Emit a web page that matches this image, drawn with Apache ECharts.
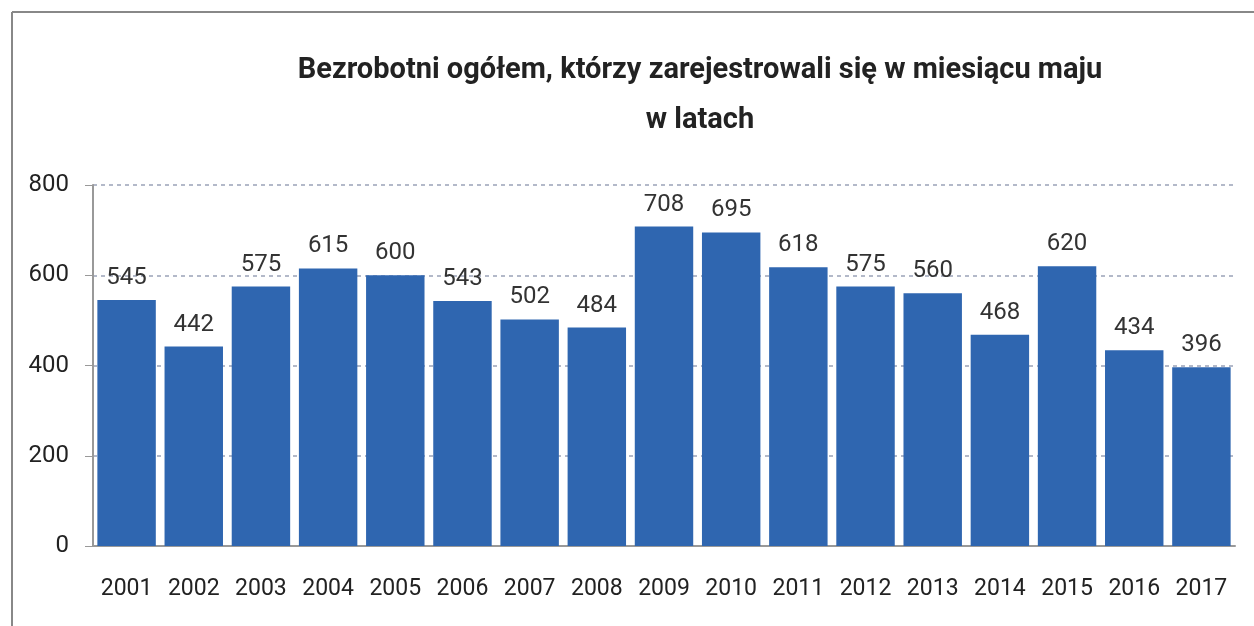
<!DOCTYPE html>
<html><head><meta charset="utf-8">
<script src="https://cdn.jsdelivr.net/npm/echarts@6/dist/echarts.min.js"></script>
<style>html,body{margin:0;padding:0;background:#fff}#c{width:1254px;height:626px}</style>
</head><body><div id="c"></div>
<script>
const titleText = 'Bezrobotni ogółem, którzy zarejestrowali się w miesiącu maju\nw latach';
const years = ['2001','2002','2003','2004','2005','2006','2007','2008','2009','2010','2011','2012','2013','2014','2015','2016','2017'];
const values = [545,442,575,615,600,543,502,484,708,695,618,575,560,468,620,434,396];
const yTicks = [0,200,400,600,800];

const FONT = 'Roboto, "Liberation Sans", sans-serif';
const chart = echarts.init(document.getElementById('c'));
chart.setOption({
  backgroundColor: '#fff',
  animation: false,
  title: {
    text: titleText, left: 695, top: 41, textAlign: 'center',
    textStyle: {fontFamily: FONT, fontSize: 29, fontWeight: 'bold', color: '#222', lineHeight: 50}
  },
  graphic: [
    {type: 'line', shape: {x1: 12, y1: 12, x2: 1254, y2: 12}, style: {stroke: '#888', lineWidth: 2}},
    {type: 'line', shape: {x1: 12, y1: 12, x2: 12, y2: 626}, style: {stroke: '#888', lineWidth: 2}}
  ],
  grid: {left: 93, right: 19, top: 185, bottom: 80},
  xAxis: {
    type: 'category', data: years,
    axisLine: {show: true, lineStyle: {color: '#999', width: 2}},
    axisTick: {show: false},
    axisLabel: {interval: 0, fontFamily: FONT, fontSize: 23, color: '#222', margin: 32}
  },
  yAxis: {
    type: 'value', min: 0, max: 800, interval: 200,
    axisLine: {show: true, lineStyle: {color: '#999', width: 2}},
    axisTick: {show: true, length: 8, lineStyle: {color: '#999'}},
    splitLine: {show: true, lineStyle: {type: [4, 4], color: '#9aa3b8', width: 1.5}},
    axisLabel: {fontFamily: FONT, fontSize: 24, color: '#222', margin: 24,
      formatter: v => yTicks.includes(v) ? String(v) : ''}
  },
  series: [{
    type: 'bar', data: values, barCategoryGap: '13%',
    itemStyle: {color: '#2f66b0'},
    label: {show: true, position: 'top', distance: 10, fontFamily: FONT, fontSize: 24, color: '#333'}
  }]
});
</script></body></html>
